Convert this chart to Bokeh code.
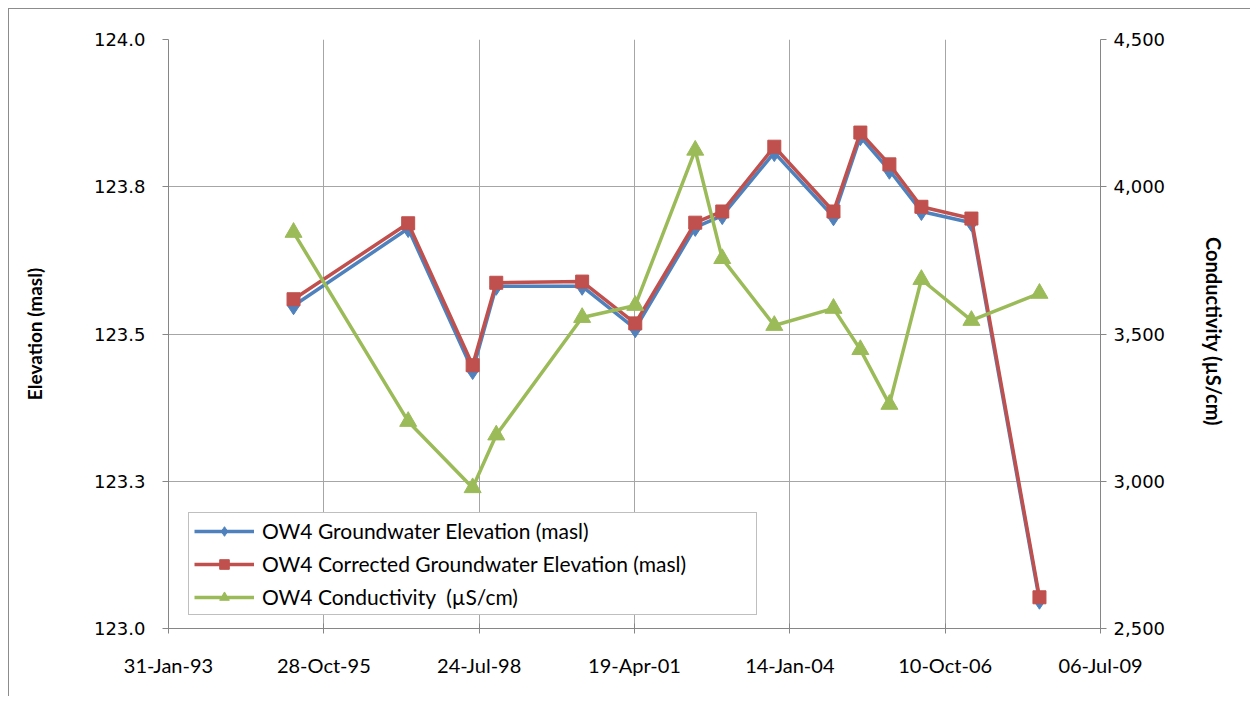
import pandas as pd
from bokeh.plotting import figure
from bokeh.models import (Range1d, LinearAxis, FixedTicker, Legend, LegendItem,
                          DatetimeTickFormatter, ColumnDataSource)
from bokeh.embed import file_html
from bokeh.resources import INLINE

# ---------------- data ----------------
sample_dates = ["1995-04-16", "1997-04-23", "1998-06-12", "1998-11-11", "2000-05-17",
                "2001-04-24", "2002-05-15", "2002-11-05", "2003-10-06", "2004-10-21",
                "2005-04-12", "2005-10-16", "2006-05-10", "2007-03-28", "2008-06-08"]
gw_elev = [123.548, 123.679, 123.438, 123.581, 123.581, 123.509, 123.681, 123.701,
           123.808, 123.699, 123.835, 123.778, 123.708, 123.689, 123.048]
gw_elev_corr = [123.559, 123.688, 123.447, 123.587, 123.589, 123.518, 123.689, 123.708,
                123.818, 123.708, 123.842, 123.788, 123.716, 123.696, 123.053]
conductivity = [3845, 3203, 2978, 3157, 3556, 3597, 4124, 3756, 3529, 3587, 3447,
                3261, 3685, 3546, 3638]

x_tick_labels = ["31-Jan-93", "28-Oct-95", "24-Jul-98", "19-Apr-01", "14-Jan-04",
                 "10-Oct-06", "06-Jul-09"]
left_ticks = [123.0, 123.25, 123.5, 123.75, 124.0]
left_tick_labels = ["123.0", "123.3", "123.5", "123.8", "124.0"]
right_ticks = [2500, 3000, 3500, 4000, 4500]
right_tick_labels = ["2,500", "3,000", "3,500", "4,000", "4,500"]

series_names = ["OW4 Groundwater Elevation (masl)",
                "OW4 Corrected Groundwater Elevation (masl)",
                "OW4 Conductivity  (\u00b5S/cm)"]

# ---------------- build ----------------
x = pd.to_datetime(sample_dates)
tick_dt = pd.to_datetime(x_tick_labels, format="%d-%b-%y")
tick_ms = [float(t.value // 10**6) for t in tick_dt]

src = ColumnDataSource(dict(x=x, gw=gw_elev, gwc=gw_elev_corr, cond=conductivity))

TICK_FONT_X = "Lato"
NUM_FONT = "DejaVu Sans"
GRID = "#A6A6A6"
AXIS = "#868686"

p = figure(width=1242, height=688, x_axis_type="datetime",
           output_backend="svg", toolbar_location=None,
           x_range=Range1d(tick_dt[0], tick_dt[-1]),
           y_range=Range1d(123.0, 124.0),
           min_border_left=159, min_border_right=151,
           min_border_top=30, min_border_bottom=69)
p.styles = {"margin-left": "8px", "margin-top": "8px",
            "border-left": "1px solid #8c8c8c", "border-top": "1px solid #8c8c8c"}
p.outline_line_color = None
p.background_fill_color = "white"
p.border_fill_color = "white"

p.extra_y_ranges = {"cond": Range1d(2500, 4500)}

# x axis
xa = p.xaxis[0]
xa.ticker = FixedTicker(ticks=tick_ms)
xa.formatter = DatetimeTickFormatter(days="%d-%b-%y", months="%d-%b-%y",
                                     years="%d-%b-%y", context=None)
xa.major_label_overrides = {t: lab for t, lab in zip(tick_ms, x_tick_labels)}
xa.major_label_text_font = TICK_FONT_X
xa.major_label_text_font_size = "20px"
xa.major_label_text_color = "black"
xa.major_label_standoff = 19
xa.major_tick_in = 5
xa.major_tick_out = 5
xa.minor_tick_line_color = None
xa.axis_line_color = AXIS
xa.major_tick_line_color = AXIS

# left axis
ya = p.yaxis[0]
ya.ticker = FixedTicker(ticks=left_ticks)
ya.major_label_overrides = {t: lab for t, lab in zip(left_ticks, left_tick_labels)}
ya.major_label_text_font = NUM_FONT
ya.major_label_text_font_size = "18px"
ya.major_label_text_color = "black"
ya.major_label_standoff = 17
ya.major_tick_in = 0
ya.major_tick_out = 6
ya.minor_tick_line_color = None
ya.axis_line_color = AXIS
ya.major_tick_line_color = AXIS
ya.axis_label = "Elevation (masl)"
ya.axis_label_text_font = "Lato"
ya.axis_label_text_font_style = "bold"
ya.axis_label_text_font_size = "19px"
ya.axis_label_text_color = "black"
ya.axis_label_standoff = 45

# right axis
ra = LinearAxis(y_range_name="cond", ticker=FixedTicker(ticks=right_ticks))
ra.major_label_overrides = {t: lab for t, lab in zip(right_ticks, right_tick_labels)}
ra.major_label_text_font = NUM_FONT
ra.major_label_text_font_size = "18px"
ra.major_label_text_color = "black"
ra.major_label_standoff = 7
ra.major_tick_in = 0
ra.major_tick_out = 6
ra.minor_tick_line_color = None
ra.axis_line_color = AXIS
ra.major_tick_line_color = AXIS
ra.axis_label = "Conductivity  (\u00b5S/cm)"
ra.axis_label_text_font = "Lato"
ra.axis_label_text_font_style = "bold"
ra.axis_label_text_font_size = "20px"
ra.axis_label_text_color = "black"
ra.axis_label_standoff = 34
p.add_layout(ra, "right")

# grids
p.xgrid.ticker = FixedTicker(ticks=tick_ms)
p.ygrid.ticker = FixedTicker(ticks=left_ticks)
p.xgrid.grid_line_color = GRID
p.ygrid.grid_line_color = GRID
p.xgrid.grid_line_width = 1
p.ygrid.grid_line_width = 1

BLUE = "#4F81BD"
RED = "#C0504D"
GREEN = "#9BBB59"
LW = 3.5

l1 = p.line("x", "gw", source=src, line_color=BLUE, line_width=LW)
m1 = p.scatter("x", "gw", source=src, marker="diamond", size=18,
               fill_color=BLUE, line_color=BLUE)
l2 = p.line("x", "gwc", source=src, line_color=RED, line_width=LW)
m2 = p.scatter("x", "gwc", source=src, marker="square", size=13,
               fill_color=RED, line_color=RED)
l3 = p.line("x", "cond", source=src, line_color=GREEN, line_width=LW,
            y_range_name="cond")
m3 = p.scatter("x", "cond", source=src, marker="triangle", size=17,
               fill_color=GREEN, line_color=GREEN, y_range_name="cond")

legend = Legend(items=[LegendItem(label=series_names[0], renderers=[l1, m1]),
                       LegendItem(label=series_names[1], renderers=[l2, m2]),
                       LegendItem(label=series_names[2], renderers=[l3, m3])],
                location=(20, 13))
legend.label_text_font = "Lato"
legend.label_text_font_size = "21px"
legend.label_text_color = "black"
legend.border_line_color = "#808080"
legend.border_line_width = 1
legend.background_fill_color = "white"
legend.background_fill_alpha = 1
legend.glyph_width = 60
legend.glyph_height = 24
legend.label_height = 24
legend.label_standoff = 8
legend.spacing = 8
legend.padding = 5
legend.margin = 0
legend.label_width = 489
p.add_layout(legend, "center")

open("out.html", "w").write(file_html(p, INLINE))
